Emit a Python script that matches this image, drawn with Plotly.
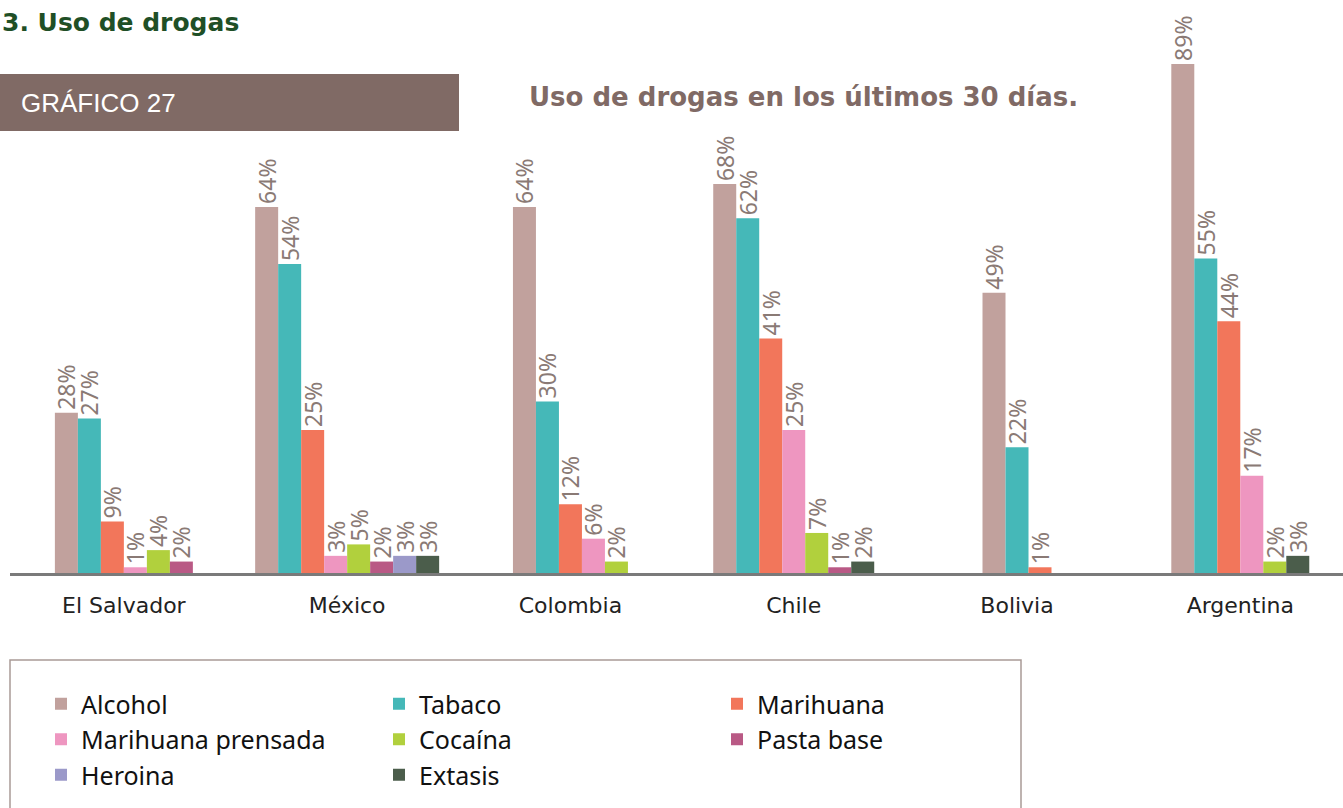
import plotly.graph_objects as go

# Countries (x categories) and drug series, in drawing order
countries = ["El Salvador", "México", "Colombia", "Chile", "Bolivia", "Argentina"]

series_names = ["Alcohol", "Tabaco", "Marihuana", "Marihuana prensada",
                "Cocaína", "Pasta base", "Heroina", "Extasis"]

# Percentages per country (None = not reported)
alcohol            = [28, 64, 64, 68, 49, 89]
tabaco             = [27, 54, 30, 62, 22, 55]
marihuana          = [9, 25, 12, 41, 1, 44]
marihuana_prensada = [1, 3, 6, 25, None, 17]
cocaina            = [4, 5, 2, 7, None, 2]
pasta_base         = [2, 2, None, 1, None, None]
heroina            = [None, 3, None, None, None, None]
extasis            = [None, 3, None, 2, None, 3]

series_values = [alcohol, tabaco, marihuana, marihuana_prensada,
                 cocaina, pasta_base, heroina, extasis]

series_colors = ["#c1a19d", "#45b8b8", "#f2765b", "#ee96c0",
                 "#b1d03d", "#b95985", "#9b99c9", "#4b5d4b"]

# ---- layout geometry (pixels) ----
W, H = 1343, 808
ML, MR, MT, MB = 10, 0, 1, 235
PW, PH = W - ML - MR, H - MT - MB
BAR_W = 0.103            # width of one bar in category units
X_RANGE = [-0.51, 5.46]
Y_RANGE = [0, 100]


def px_x(px):
    return (px - ML) / PW


def px_y(py):
    return (H - MB - py) / PH


# bars within a country are packed side by side (missing series leave no gap)
positions = [[None] * len(countries) for _ in series_names]
for ci in range(len(countries)):
    present = [si for si in range(len(series_names)) if series_values[si][ci] is not None]
    n = len(present)
    for k, si in enumerate(present):
        positions[si][ci] = ci + (k - (n - 1) / 2) * BAR_W

label_font = dict(family="Noto Sans, Lato, sans-serif", size=23, color="#8a7a75")

fig = go.Figure()
for si, name in enumerate(series_names):
    xs, ys, txt = [], [], []
    for ci in range(len(countries)):
        v = series_values[si][ci]
        if v is None:
            continue
        xs.append(positions[si][ci])
        ys.append(v)
        txt.append(f"{v}%")
    fig.add_trace(go.Bar(
        x=xs, y=ys, name=name, width=BAR_W,
        marker=dict(color=series_colors[si], line=dict(width=0)),
        text=txt, textposition="outside", textangle=-90,
        textfont=label_font, constraintext="none", cliponaxis=False,
        hoverinfo="name+y",
    ))

fig.update_layout(
    width=W, height=H,
    margin=dict(l=ML, r=MR, t=MT, b=MB),
    paper_bgcolor="white", plot_bgcolor="white",
    barmode="overlay",
    showlegend=True,
    legend=dict(
        orientation="h", x=px_x(41), y=px_y(681), xanchor="left", yanchor="top",
        entrywidth=293, entrywidthmode="pixels",
        font=dict(family="Noto Sans, Lato, sans-serif", size=25, color="#111111"),
        bgcolor="rgba(0,0,0,0)", traceorder="normal",
    ),
    xaxis=dict(
        range=X_RANGE, tickmode="array", tickvals=list(range(len(countries))),
        ticktext=countries, showgrid=False, zeroline=False,
        showline=True, linecolor="#7a7a7a", linewidth=3,
        ticks="", ticklabelstandoff=11,
        tickfont=dict(family="DejaVu Sans, sans-serif", size=22, color="#222222"),
    ),
    yaxis=dict(range=Y_RANGE, visible=False, showgrid=False, zeroline=False),
    shapes=[
        # header band behind "GRÁFICO 27"
        dict(type="rect", xref="paper", yref="paper",
             x0=px_x(0), x1=px_x(459), y0=px_y(131), y1=px_y(74),
             fillcolor="#806a65", line=dict(width=0), layer="below"),
        # frame around the legend
        dict(type="rect", xref="paper", yref="paper",
             x0=px_x(10), x1=px_x(1021), y0=px_y(815), y1=px_y(660),
             fillcolor="rgba(0,0,0,0)", line=dict(color="#a99a96", width=1.5)),
    ],
    annotations=[
        dict(text="3. Uso de drogas", xref="paper", yref="paper",
             x=px_x(0), y=px_y(23), xanchor="left", yanchor="middle",
             showarrow=False,
             font=dict(family="DejaVu Sans, sans-serif", size=25, color="#1f4f26", weight="bold")),
        dict(text="GRÁFICO 27", xref="paper", yref="paper",
             x=px_x(19), y=px_y(103), xanchor="left", yanchor="middle",
             showarrow=False,
             font=dict(family="Liberation Sans, Arial, sans-serif", size=26, color="white")),
        dict(text="Uso de drogas en los últimos 30 días.", xref="paper", yref="paper",
             x=px_x(527), y=px_y(97), xanchor="left", yanchor="middle",
             showarrow=False,
             font=dict(family="DejaVu Sans, sans-serif", size=26, color="#806a65", weight="bold")),
    ],
)

fig.write_html("out.html")
